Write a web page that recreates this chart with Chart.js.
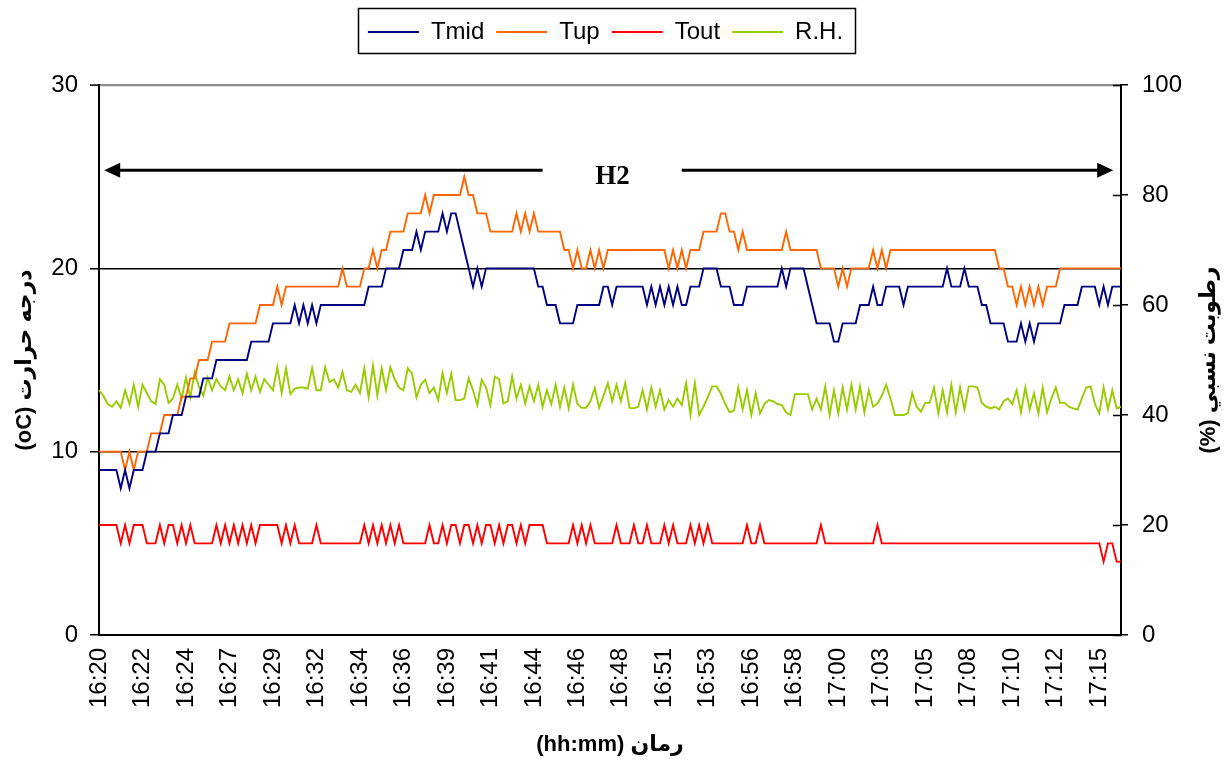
<!DOCTYPE html>
<html><head><meta charset="utf-8">
<script src="https://cdn.jsdelivr.net/npm/chart.js@4.4.1/dist/chart.umd.min.js"></script>
<style>html,body{margin:0;padding:0;background:#fff}</style>
</head><body>
<canvas id="c" width="1230" height="763"></canvas>
<script>
const tickLabels = ['16:20','16:22','16:24','16:27','16:29','16:32','16:34','16:36','16:39','16:41','16:44','16:46','16:48','16:51','16:53','16:56','16:58','17:00','17:03','17:05','17:08','17:10','17:12','17:15'];
const samplesPerLabel = 10;

const Tmid = [9,9,9,9,9,8,9,8,9,9,
 9,10,10,10,11,11,11,12,12,12,
 13,13,13,13,14,14,14,15,15,15,
 15,15,15,15,15,16,16,16,16,16,
 17,17,17,17,17,18,17,18,17,18,
 17,18,18,18,18,18,18,18,18,18,
 18,18,19,19,19,19,20,20,20,20,
 21,21,21,22,21,22,22,22,22,23,
 22,23,23,22,21,20,19,20,19,20,
 20,20,20,20,20,20,20,20,20,20,
 20,19,19,18,18,18,17,17,17,17,
 18,18,18,18,18,18,19,19,18,19,
 19,19,19,19,19,19,18,19,18,19,
 18,19,18,19,18,18,19,19,19,20,
 20,20,20,19,19,19,18,18,18,19,
 19,19,19,19,19,19,19,20,19,20,
 20,20,20,19,18,17,17,17,17,16,
 16,17,17,17,17,18,18,18,19,18,
 18,19,19,19,19,18,19,19,19,19,
 19,19,19,19,19,20,19,19,19,20,
 19,19,19,18,18,17,17,17,17,16,
 16,16,17,16,17,16,17,17,17,17,
 17,17,18,18,18,18,19,19,19,19,
 18,19,18,19,19,19];

const Tup = [10,10,10,10,10,10,9,10,9,10,
 10,10,11,11,11,12,12,12,12,13,
 13,14,14,15,15,15,16,16,16,16,
 17,17,17,17,17,17,17,18,18,18,
 18,19,18,19,19,19,19,19,19,19,
 19,19,19,19,19,19,20,19,19,19,
 19,20,20,21,20,21,21,22,22,22,
 22,23,23,23,23,24,23,24,24,24,
 24,24,24,24,25,24,24,23,23,23,
 22,22,22,22,22,22,23,22,23,22,
 23,22,22,22,22,22,22,21,21,20,
 21,20,20,21,20,21,20,21,21,21,
 21,21,21,21,21,21,21,21,21,21,
 21,20,21,20,21,20,21,21,21,22,
 22,22,22,23,23,22,22,21,22,21,
 21,21,21,21,21,21,21,21,22,21,
 21,21,21,21,21,21,20,20,20,20,
 19,20,19,20,20,20,20,20,21,20,
 21,20,21,21,21,21,21,21,21,21,
 21,21,21,21,21,21,21,21,21,21,
 21,21,21,21,21,21,21,20,20,19,
 19,18,19,18,19,18,19,18,19,19,
 19,20,20,20,20,20,20,20,20,20,
 20,20,20,20,20,20];

const Tout = [6,6,6,6,6,5,6,5,6,6,
 6,5,5,5,6,5,6,6,5,6,
 5,6,5,5,5,5,5,6,5,6,
 5,6,5,6,5,6,5,6,6,6,
 6,6,5,6,5,6,5,5,5,5,
 6,5,5,5,5,5,5,5,5,5,
 5,6,5,6,5,6,5,6,5,6,
 5,5,5,5,5,5,6,5,5,6,
 5,6,6,5,6,6,5,6,5,6,
 6,5,6,5,6,6,5,6,5,6,
 6,6,6,5,5,5,5,5,5,6,
 5,6,5,6,5,5,5,5,5,6,
 5,5,5,6,5,5,6,5,5,5,
 6,5,6,5,5,5,6,5,6,5,
 6,5,5,5,5,5,5,5,5,6,
 5,5,6,5,5,5,5,5,5,5,
 5,5,5,5,5,5,6,5,5,5,
 5,5,5,5,5,5,5,5,5,6,
 5,5,5,5,5,5,5,5,5,5,
 5,5,5,5,5,5,5,5,5,5,
 5,5,5,5,5,5,5,5,5,5,
 5,5,5,5,5,5,5,5,5,5,
 5,5,5,5,5,5,5,5,5,5,
 5,4,5,5,4,4];

const RH = [44.5,43.5,42.0,41.5,42.5,41.3,44.5,42.0,45.5,41.5,
 45.5,44.0,42.5,42.0,46.5,45.5,42.2,43.0,45.5,43.0,
 46.8,43.2,47.8,45.0,43.5,46.8,44.5,46.5,45.2,44.5,
 47.0,44.5,46.5,44.0,47.5,44.5,47.0,44.2,46.5,45.5,
 44.5,48.7,44.0,48.5,43.8,44.8,45.0,45.0,44.8,48.5,
 44.5,44.5,48.7,46.0,46.5,45.0,47.8,44.5,44.2,45.5,
 44.0,48.5,43.2,49.0,43.5,48.5,44.5,48.7,46.5,45.0,
 44.5,48.5,47.5,43.2,45.5,46.4,44.0,45.0,42.7,47.6,
 44.0,47.5,42.7,42.7,43.0,46.7,44.5,41.8,46.4,45.0,
 41.8,47.0,46.5,42.1,42.5,47.0,43.0,45.5,42.1,45.2,
 42.5,45.5,41.5,44.5,42.0,45.5,41.5,45.0,41.2,45.5,
 42.0,41.3,41.3,42.5,44.9,41.3,43.5,45.8,42.5,45.5,
 42.5,45.8,41.3,41.2,41.5,44.5,41.0,45.0,41.5,44.5,
 41.0,42.7,41.5,43.0,41.8,45.8,40.0,45.8,40.0,41.5,
 43.3,45.2,45.2,43.9,42.0,40.5,40.8,45.0,41.0,44.5,
 40.0,44.0,40.3,42.0,42.7,42.5,42.0,41.8,40.5,40.0,
 43.8,43.8,43.8,43.8,41.0,43.0,41.0,45.2,40.0,44.5,
 40.3,45.0,41.0,45.5,41.0,45.2,40.5,44.5,41.5,42.1,
 43.5,45.5,43.0,40.0,40.0,40.0,40.3,44.0,41.5,40.6,
 42.2,42.2,45.0,40.3,44.5,40.5,45.5,40.5,45.0,41.0,
 45.2,45.2,45.0,42.2,41.5,41.2,41.5,41.0,42.5,43.0,
 42.0,44.5,40.5,45.0,41.0,44.0,40.3,45.0,40.5,43.0,
 45.0,42.2,42.2,41.5,41.2,41.0,43.0,45.0,45.2,42.0,
 40.3,45.0,41.0,44.5,41.2,41.5];

// Annotation "H2" span (in sample index / temperature units)
const spanFrom = 1.2, spanTo = 233.2, spanGapFrom = 102, spanGapTo = 134, spanLevel = 25.35;
const spanLabel = 'H2', spanLabelAt = 118.1, spanLabelLevel = 25.0;

const sampleIdx = Tmid.map((_, i) => i);
const FONT = "'Liberation Sans', Arial, 'DejaVu Sans', sans-serif";
const RLE = '\u202B', PDF = '\u202C';
const titleLeft = 'درجه حرارت (oC)';
const titleRight = 'رطوبت نسبي (%)';
const titleBottom = 'رمان (hh:mm)';

const overlay = {
  id: 'overlay',
  afterDraw(chart) {
    const {ctx, scales: {x, y, y2}, legend} = chart;
    ctx.save();
    // legend frame
    const hb = legend.legendHitBoxes;
    if (hb && hb.length) {
      const l = hb[0].left - 10;
      const r = hb[hb.length - 1].left + hb[hb.length - 1].width + 12;
      ctx.strokeStyle = '#000'; ctx.lineWidth = 1.5;
      ctx.strokeRect(Math.round(l) + 0.5, legend.top + 0.5, Math.round(r - l), legend.height - 1);
    }
    // inner tick marks of right axis
    ctx.strokeStyle = '#000'; ctx.lineWidth = 1.5;
    y2.ticks.forEach(t => {
      const py = Math.round(y2.getPixelForValue(t.value)) + 0.5;
      ctx.beginPath(); ctx.moveTo(y2.left - 8, py); ctx.lineTo(y2.left, py); ctx.stroke();
    });
    // right axis title (reads bottom-to-top)
    ctx.fillStyle = '#000';
    ctx.font = "bold 22px " + FONT;
    ctx.textAlign = 'center'; ctx.textBaseline = 'middle';
    ctx.translate(y2.right - 2, (y2.top + y2.bottom) / 2);
    ctx.rotate(-Math.PI / 2);
    ctx.fillText(RLE + titleRight + PDF, 0, 0);
    ctx.restore();

    // H2 double arrow
    ctx.save();
    const ay = y.getPixelForValue(spanLevel);
    const x0 = x.getPixelForValue(spanFrom), x1 = x.getPixelForValue(spanTo);
    const g0 = x.getPixelForValue(spanGapFrom), g1 = x.getPixelForValue(spanGapTo);
    ctx.strokeStyle = '#000'; ctx.fillStyle = '#000'; ctx.lineWidth = 3;
    ctx.beginPath(); ctx.moveTo(x0 + 12, ay); ctx.lineTo(g0, ay); ctx.stroke();
    ctx.beginPath(); ctx.moveTo(g1, ay); ctx.lineTo(x1 - 12, ay); ctx.stroke();
    ctx.beginPath(); ctx.moveTo(x0, ay); ctx.lineTo(x0 + 16, ay - 7.5); ctx.lineTo(x0 + 16, ay + 7.5); ctx.closePath(); ctx.fill();
    ctx.beginPath(); ctx.moveTo(x1, ay); ctx.lineTo(x1 - 16, ay - 7.5); ctx.lineTo(x1 - 16, ay + 7.5); ctx.closePath(); ctx.fill();
    ctx.font = "bold 27px 'Liberation Serif', 'Times New Roman', serif";
    ctx.textAlign = 'center'; ctx.textBaseline = 'middle';
    ctx.fillText(spanLabel, x.getPixelForValue(spanLabelAt), y.getPixelForValue(spanLabelLevel));
    ctx.restore();
  }
};

const ds = (label, data, color, axis) => ({
  label, data, yAxisID: axis, borderColor: color, backgroundColor: color,
  borderWidth: 1.9, pointRadius: 0, tension: 0, fill: false
});

new Chart(document.getElementById('c'), {
  type: 'line',
  data: {
    labels: sampleIdx,
    datasets: [
      ds('Tmid', Tmid, '#000080', 'y'),
      ds('Tup', Tup, '#FF6600', 'y'),
      ds('Tout', Tout, '#FF0000', 'y'),
      ds('R.H.', RH, '#99CC00', 'y2')
    ]
  },
  options: {
    responsive: false, animation: false,
    layout: { padding: { top: 8, left: 0, right: 19, bottom: 0 } },
    plugins: {
      legend: {
        display: true, position: 'top', weight: 3000,
        labels: {
          font: { size: 24, family: FONT }, color: '#000',
          boxWidth: 51, boxHeight: 2, padding: 12,
          generateLabels(chart) {
            return Chart.defaults.plugins.legend.labels.generateLabels(chart).map(it => {
              it.fillStyle = it.strokeStyle; it.lineWidth = 0; return it;
            });
          }
        }
      },
      subtitle: { display: true, text: ' ', weight: 1500, font: { size: 10, lineHeight: 1 }, padding: { top: 0, bottom: 21 } },
      title: { display: false },
      tooltip: { enabled: false }
    },
    scales: {
      x: {
        type: 'category',
        offset: false,
        grid: { display: false, drawTicks: false },
        border: { display: true, color: '#000', width: 2 },
        ticks: {
          autoSkip: false, maxRotation: 90, minRotation: 90, padding: 13,
          font: { size: 24, family: FONT }, color: '#000',
          callback: (v, i) => (i % samplesPerLabel === 0 ? tickLabels[i / samplesPerLabel] : '')
        },
        title: { display: true, text: RLE + titleBottom + PDF, color: '#000',
          font: { size: 22, weight: 'bold', family: FONT }, padding: { top: 0, bottom: 5 } },
        afterFit: s => { s.height = 128; }
      },
      y: {
        position: 'left', min: 0, max: 30,
        ticks: { stepSize: 10, padding: 12, font: { size: 24, family: FONT }, color: '#000' },
        grid: {
          color: c => (c.tick && c.tick.value === 30 ? '#8c8c8c' : '#000'),
          lineWidth: c => (c.tick && c.tick.value === 30 ? 2.2 : 1.5),
          tickColor: '#000', tickLength: 9, tickWidth: 1.5
        },
        border: { display: true, color: '#000', width: 2 },
        title: { display: true, text: RLE + titleLeft + PDF, color: '#000',
          font: { size: 22, weight: 'bold', family: FONT }, padding: { top: 12, bottom: 0 } },
        afterFit: s => { s.width = 99; }
      },
      y2: {
        position: 'right', min: 0, max: 100,
        ticks: { stepSize: 20, padding: 14, font: { size: 24, family: FONT }, color: '#000' },
        grid: { drawOnChartArea: false, color: '#000', tickLength: 7, lineWidth: 1.5 },
        border: { display: true, color: '#000', width: 2 },
        afterFit: s => { s.width = 90; }
      }
    }
  },
  plugins: [overlay]
});
</script>
</body></html>
